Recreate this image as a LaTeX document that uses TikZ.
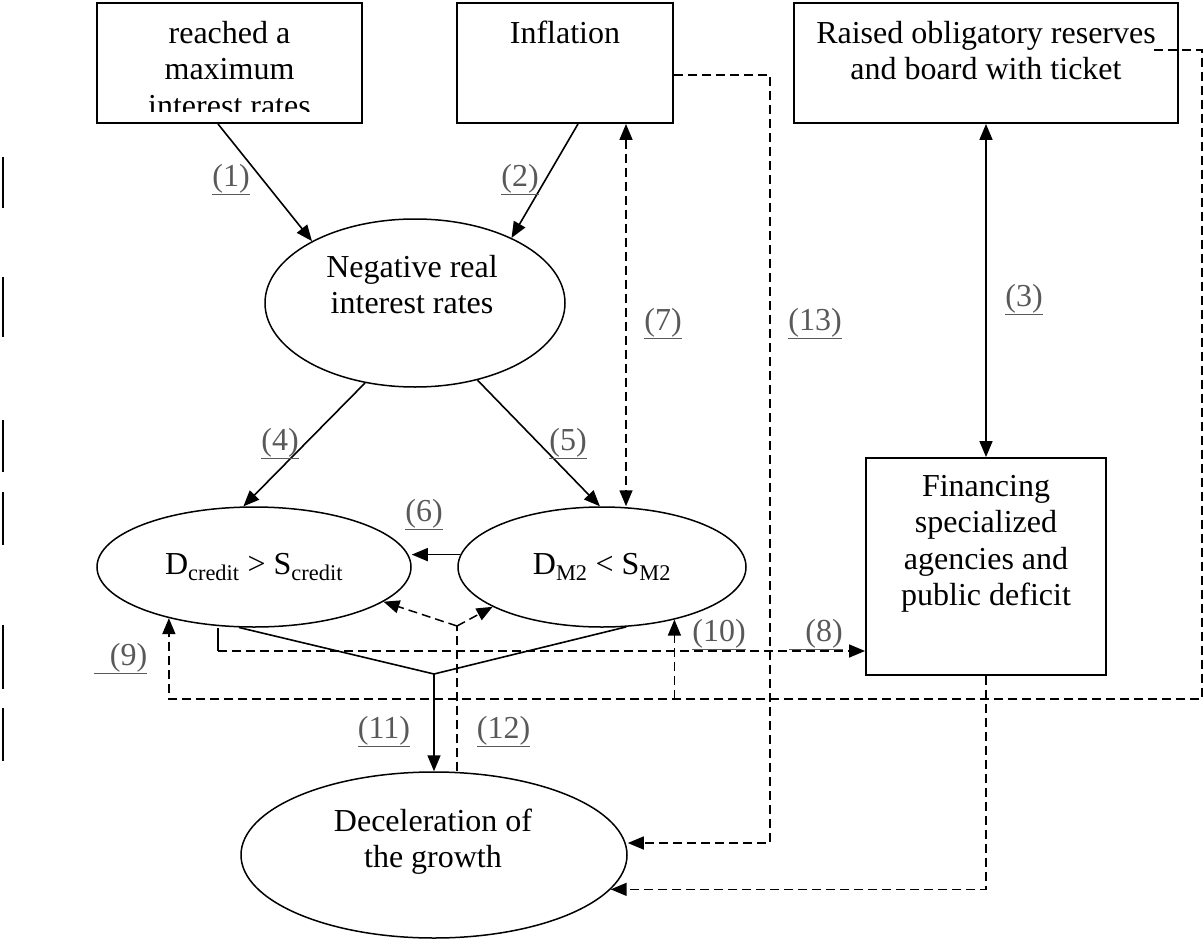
\documentclass[tikz,border=0pt]{standalone}
\usepackage{fontspec}
\setmainfont{Liberation Serif}
\usetikzlibrary{arrows.meta,shapes.geometric}
\definecolor{labelgray}{HTML}{595959}

\begin{document}
\begin{tikzpicture}[x=1pt, y=-1pt,
    font=\fontsize{32}{36.5}\selectfont,
    >={Triangle[length=16pt,width=13pt]},
    box/.style={draw, line width=1.9pt, rectangle, inner sep=0pt},
    oval/.style={draw, line width=1.5pt, ellipse, inner sep=0pt},
    boxtext/.style={anchor=north, align=center, inner sep=0pt},
    conn/.style={line width=1.6pt},
    dashconn/.style={line width=1.5pt, dash pattern=on 9pt off 5pt},
    numlabel/.style={anchor=base, inner sep=0pt, text=labelgray}]

    \useasboundingbox (0,0) rectangle (1204,939);

    % Top row (boxes)
    \node[box, minimum width=265pt, minimum height=120pt] (maxrate) at (229.5,63) {};
    \node[box, minimum width=216pt, minimum height=120pt] (infl) at (565,63) {};
    \node[box, minimum width=384pt, minimum height=120pt] (oblres) at (986,63) {};

    % Texts of the top boxes (first one is cut by the box)
    \begin{scope}
        \clip (97,3) rectangle (362,112);
        \node[boxtext] (maxratetxt) at ([yshift=-15.5pt]maxrate.north) {\strut reached a\\maximum\\interest rates};
    \end{scope}
    \node[boxtext] (infltxt) at ([yshift=-15.5pt]infl.north) {\strut Inflation};
    \node[boxtext] (oblrestxt) at ([yshift=-15.5pt]oblres.north) {\strut Raised obligatory reserves\\and board with ticket};

    % Ovals
    \node[oval, minimum width=300pt, minimum height=168pt] (negrate) at (415,303) {};
    \node[boxtext] (negratetxt) at (412,251.5) {\strut Negative real\\interest rates};
    \node[oval, minimum width=314pt, minimum height=120pt] (dcredit) at (254,567) {D\textsubscript{credit} > S\textsubscript{credit}};
    \node[oval, minimum width=288pt, minimum height=120pt] (dmtwo) at (602,567) {D\textsubscript{M2} < S\textsubscript{M2}};
    \node[oval, minimum width=386pt, minimum height=166pt] (decel) at (434,855) {};
    \node[boxtext] (deceltxt) at (433,805.5) {\strut Deceleration of\\the growth};

    % Right box
    \node[box, minimum width=240pt, minimum height=217pt] (fin) at (986,566.5) {};
    \node[boxtext] (fintxt) at ([yshift=-13.5pt]fin.north) {\strut Financing\\specialized\\agencies and\\public deficit};

    % Bend points
    \coordinate (top7) at ([xshift=61pt]infl.south);
    \coordinate (bend8) at (218,651);
    \coordinate (start9) at ([xshift=-25pt,yshift=13pt]oblres.east);
    \coordinate (corner9) at (1202,699);
    \coordinate (join11) at (434,674);
    \coordinate (fork12) at (457,626);
    \coordinate (bend13) at (770,843);

    % Solid connections
    \draw[conn, ->] ([xshift=-11.5pt]maxrate.south) -- (negrate.149);
    \draw[conn, ->] ([xshift=13pt]infl.south) -- (negrate.34);
    \draw[conn, <->] (oblres.south) -- (fin.north);
    \draw[conn, ->] (negrate.238) -- (dcredit.100);
    \draw[conn, ->] (negrate.-51) -- (dmtwo.92);
    \draw[conn, ->] (dmtwo.175) -- (dmtwo.175 -| dcredit.east);
    \draw[conn] (dcredit.256) -- (join11) -- (dmtwo.292);
    \draw[conn, ->] (join11) -- (decel.north);
    \draw[conn] (bend8 |- dcredit.south) -- (bend8);

    % Dashed connections
    \draw[dashconn, <->] (top7) -- (top7 |- dmtwo.north);
    \draw[dashconn, ->] (bend8) -- (bend8 -| fin.west);
    \draw[dashconn, ->] (start9) -| (corner9) -| (dcredit.211);
    \draw[dashconn, ->] (dmtwo.-36 |- corner9) -- (dmtwo.-36);
    \draw[dashconn] (fork12 |- decel.north) -- (fork12);
    \draw[dashconn, ->] (fork12) -- (dcredit.-15);
    \draw[dashconn, ->] (fork12) -- (dmtwo.200);
    \draw[dashconn, ->] ([yshift=-12pt]infl.east) -| (bend13) -- ([yshift=12pt]decel.east);
    \draw[dashconn, ->] (fin.south) |- (decel.-11.7);

    % Numbers of the links
    \node[numlabel] (lab1) at (231,186) {\underline{(1)}};
    \node[numlabel] (lab2) at (520,186) {\underline{(2)}};
    \node[numlabel] (lab3) at (1024,306) {\underline{(3)}};
    \node[numlabel] (lab4) at (280,450) {\underline{(4)}};
    \node[numlabel] (lab5) at (568,450) {\underline{(5)}};
    \node[numlabel] (lab6) at (424,521) {\underline{(6)}};
    \node[numlabel] (lab7) at (663,330) {\underline{(7)}};
    \node[numlabel] (lab8) at (816,641) {\underline{\hspace{16pt}(8)}};
    \node[numlabel] (lab9) at (120.5,665) {\underline{\hspace{16pt}(9)}};
    \node[numlabel] (lab10) at (719,641) {\underline{(10)}};
    \node[numlabel] (lab11) at (384,738) {\underline{(11)}};
    \node[numlabel] (lab12) at (503.5,738) {\underline{(12)}};
    \node[numlabel] (lab13) at (815,330) {\underline{(13)}};

    % Change bars on the left margin
    \foreach \ya/\yb in {157/208, 277/337, 420/472, 492/545, 625/689, 708/761}
        \draw[line width=2.2pt] (3,\ya) -- (3,\yb);

\end{tikzpicture}
\end{document}
